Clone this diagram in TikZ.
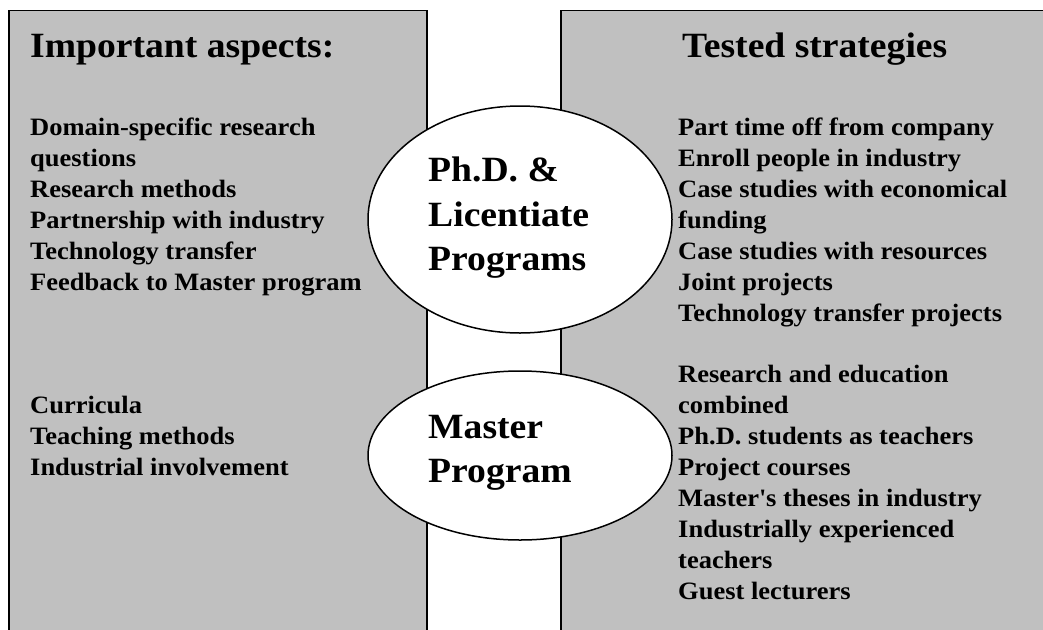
\documentclass[tikz,border=0pt]{standalone}
\usepackage{fontspec}
\setmainfont{Liberation Serif}
\newfontfamily\widefont[FakeStretch=1.06]{Liberation Serif}
\usetikzlibrary{shapes.geometric}
\definecolor{boxgray}{RGB}{192,192,192}
\begin{document}
\begin{tikzpicture}[x=1pt,y=-1pt,
 panel/.style={draw=black, line width=1.5pt, fill=boxgray},
 oval/.style={ellipse, draw=black, line width=1.5pt, fill=white, inner sep=0pt},
 heading/.style={anchor=base west, inner sep=0pt, font=\widefont\fontsize{35.5}{40}\selectfont\bfseries},
 item/.style={anchor=base west, inner sep=0pt, font=\widefont\fontsize{25}{28}\selectfont\bfseries},
 ovaltext/.style={anchor=base west, inner sep=0pt, font=\widefont\fontsize{35.5}{40}\selectfont\bfseries}]
\useasboundingbox (0,0) rectangle (1043,629);
\clip (0,0) rectangle (1043,629);
\fill[white] (0,0) rectangle (1043,629);
\draw[panel] (9,10.5) rectangle (427,650);
\draw[panel] (561,10.5) rectangle (1070,650);
\node[heading] (hl) at (30,57) {Important aspects:};
\node[heading] (hr) at (682,57) {Tested strategies};
\foreach \t [count=\i] in {Domain-specific research, questions, Research methods, Partnership with industry, Technology transfer, Feedback to Master program}
  \node[item] (la\i) at (30,{135+31*(\i-1)}) {\t};
\foreach \t [count=\i] in {Curricula, Teaching methods, Industrial involvement}
  \node[item] (lb\i) at (30,{413+31*(\i-1)}) {\t};
\foreach \t [count=\i] in {Part time off from company, Enroll people in industry, Case studies with economical, funding, Case studies with resources, Joint projects, Technology transfer projects}
  \node[item] (ra\i) at (678,{135+31*(\i-1)}) {\t};
\foreach \t [count=\i] in {Research and education, combined, Ph.D. students as teachers, Project courses, {Master\textquotesingle s theses in industry}, Industrially experienced, teachers, Guest lecturers}
  \node[item] (rb\i) at (678,{382.5+31*(\i-1)}) {\t};
\node[oval, minimum width=304pt, minimum height=227pt] (phd) at (520,219.5) {};
\node[oval, minimum width=304pt, minimum height=169pt] (msc) at (520,455.5) {};
\node[ovaltext] (p1) at (428,181.5) {Ph.D. \&};
\node[ovaltext] (p2) at (428,226.5) {Licentiate};
\node[ovaltext] (p3) at (428,270.5) {Programs};
\node[ovaltext] (m1) at (428,438) {Master};
\node[ovaltext] (m2) at (428,482) {Program};
\end{tikzpicture}
\end{document}
